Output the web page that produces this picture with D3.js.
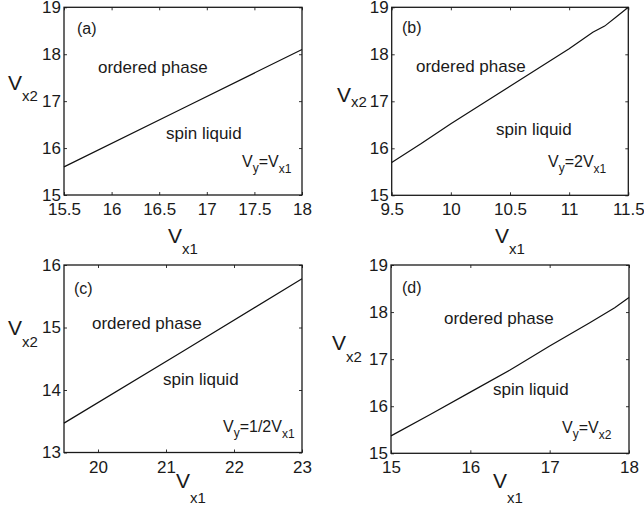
<!DOCTYPE html>
<html lang="en">
<head>
    <meta charset="UTF-8">
    <title>Phase diagrams</title>
    <script src="https://d3js.org/d3.v7.min.js"></script>
    <style>
        body { margin: 0; background: #fff; }
        text { font-family: "Liberation Sans", Arial, Helvetica, sans-serif; fill: #1a1a1a; }
    </style>
</head>
<body>
<script>

    // ---- data ----
    // panel (a) Vy = Vx1
    var xA = [15.5, 16.75, 18]
    var yA = [15.6, 16.85, 18.1]
    var xTicksA = [15.5, 16, 16.5, 17, 17.5, 18]
    var yTicksA = [15, 16, 17, 18, 19]

    // panel (b) Vy = 2Vx1
    var xB = [9.5, 9.75, 10, 10.25, 10.5, 10.75, 11, 11.2, 11.3, 11.4, 11.5]
    var yB = [15.7, 16.1, 16.52, 16.92, 17.32, 17.72, 18.12, 18.47, 18.6, 18.8, 19.0]
    var xTicksB = [9.5, 10, 10.5, 11, 11.5]
    var yTicksB = [15, 16, 17, 18, 19]

    // panel (c) Vy = 1/2 Vx1
    var xC = [19.5, 21.25, 23]
    var yC = [13.47, 14.62, 15.78]
    var xTicksC = [20, 21, 22, 23]
    var yTicksC = [13, 14, 15, 16]

    // panel (d) Vy = Vx2
    var xD = [15, 15.5, 16, 16.5, 16.6, 17, 17.5, 17.82, 18]
    var yD = [15.37, 15.83, 16.3, 16.77, 16.87, 17.28, 17.77, 18.09, 18.31]
    var xTicksD = [15, 16, 17, 18]
    var yTicksD = [15, 16, 17, 18, 19]

    var labels = ['(a)', '(b)', '(c)', '(d)']
    var vyMain = ['V', 'V', 'V', 'V']
    var vyRhs = [['=V', 'x1'], ['=2V', 'x1'], ['=1/2V', 'x1'], ['=V', 'x2']]

    // ---- layout ----
    var w = 644, h = 508
    var svg = d3.select('body').append('svg').attr('width', w).attr('height', h)

    var panels = [
        { xs: xA, ys: yA, xt: xTicksA, yt: yTicksA, xd: [15.5, 18], yd: [15, 19],
          box: [64, 7.3, 302, 195], yl: [8, 90, 11], xl: [168, 243, 11],
          tag: [77, 34], ord: [98, 72.5], spin: [166, 139], vy: [242, 166.7] },
        { xs: xB, ys: yB, xt: xTicksB, yt: yTicksB, xd: [9.5, 11.5], yd: [15, 19],
          box: [391.7, 7.3, 628.3, 195.3], yl: [337, 101.5, 5], xl: [495, 243, 11],
          tag: [402, 33.3], ord: [416, 71.7], spin: [496, 135], vy: [548, 166.7] },
        { xs: xC, ys: yC, xt: xTicksC, yt: yTicksC, xd: [19.5, 23], yd: [13, 16],
          box: [64, 265, 302, 452.5], yl: [8, 335, 12], xl: [176, 488, 15],
          tag: [74, 294], ord: [92, 329], spin: [163, 385], vy: [223, 431.7] },
        { xs: xD, ys: yD, xt: xTicksD, yt: yTicksD, xd: [15, 18], yd: [15, 19],
          box: [391, 265, 629, 453.3], yl: [332, 350, 12], xl: [493, 488, 15],
          tag: [402, 293], ord: [444, 324], spin: [493, 395], vy: [562, 432.7] }
    ]

    panels.forEach(function (p, i) {
        var x0 = p.box[0], y0 = p.box[1], x1 = p.box[2], y1 = p.box[3]

        var xScale = d3.scaleLinear().domain(p.xd).range([x0, x1])
        var yScale = d3.scaleLinear().domain(p.yd).range([y1, y0])

        var g = svg.append('g')

        // axes, ticks pointing inward
        var fmt = function (d) { return d }
        g.append('g').attr('transform', 'translate(0,' + y1 + ')')
            .call(d3.axisBottom(xScale).tickValues(p.xt).tickFormat(fmt).tickSizeInner(-3).tickSizeOuter(0).tickPadding(8))
        g.append('g').attr('transform', 'translate(' + x0 + ',0)')
            .call(d3.axisLeft(yScale).tickValues(p.yt).tickFormat(fmt).tickSizeInner(-3).tickSizeOuter(0).tickPadding(3))
        g.append('g').attr('transform', 'translate(0,' + y0 + ')')
            .call(d3.axisTop(xScale).tickValues(p.xt).tickFormat('').tickSizeInner(-3).tickSizeOuter(0))
        g.append('g').attr('transform', 'translate(' + x1 + ',0)')
            .call(d3.axisRight(yScale).tickValues(p.yt).tickFormat('').tickSizeInner(-3).tickSizeOuter(0))

        g.selectAll('.domain').remove()
        g.selectAll('.tick line').attr('stroke', '#333').attr('stroke-width', 1)
        g.selectAll('.tick text').attr('font-size', 17).attr('fill', '#1a1a1a')
            .style('font-family', '"Liberation Sans", Arial, sans-serif')

        // box
        g.append('rect')
            .attr('x', x0).attr('y', y0)
            .attr('width', x1 - x0).attr('height', y1 - y0)
            .attr('fill', 'none').attr('stroke', '#1a1a1a').attr('stroke-width', 1.3)

        // phase boundary
        var pts = p.xs.map(function (d, k) { return [d, p.ys[k]] })
        g.append('path')
            .datum(pts)
            .attr('fill', 'none')
            .attr('stroke', '#111')
            .attr('stroke-width', 1.2)
            .attr('d', d3.line().x(function (d) { return xScale(d[0]) }).y(function (d) { return yScale(d[1]) }))

        // axis titles
        var yl = g.append('text').attr('x', p.yl[0]).attr('y', p.yl[1])
        yl.append('tspan').attr('font-size', 21).text('V')
        yl.append('tspan').attr('font-size', 15).attr('dy', p.yl[2]).text('x2')

        var xl = g.append('text').attr('x', p.xl[0]).attr('y', p.xl[1])
        xl.append('tspan').attr('font-size', 21).text('V')
        xl.append('tspan').attr('font-size', 15).attr('dy', p.xl[2]).text('x1')

        // annotations
        g.append('text').attr('x', p.tag[0]).attr('y', p.tag[1]).attr('font-size', 16).text(labels[i])
        g.append('text').attr('x', p.ord[0]).attr('y', p.ord[1]).attr('font-size', 17).text('ordered phase')
        g.append('text').attr('x', p.spin[0]).attr('y', p.spin[1]).attr('font-size', 17).text('spin liquid')

        var vy = g.append('text').attr('x', p.vy[0]).attr('y', p.vy[1]).attr('font-size', 16)
        vy.append('tspan').text(vyMain[i])
        vy.append('tspan').attr('font-size', 12).attr('dy', 5).text('y')
        vy.append('tspan').attr('dy', -5).text(vyRhs[i][0])
        vy.append('tspan').attr('font-size', 12).attr('dy', 6).text(vyRhs[i][1])
    })

</script>
</body>
</html>
